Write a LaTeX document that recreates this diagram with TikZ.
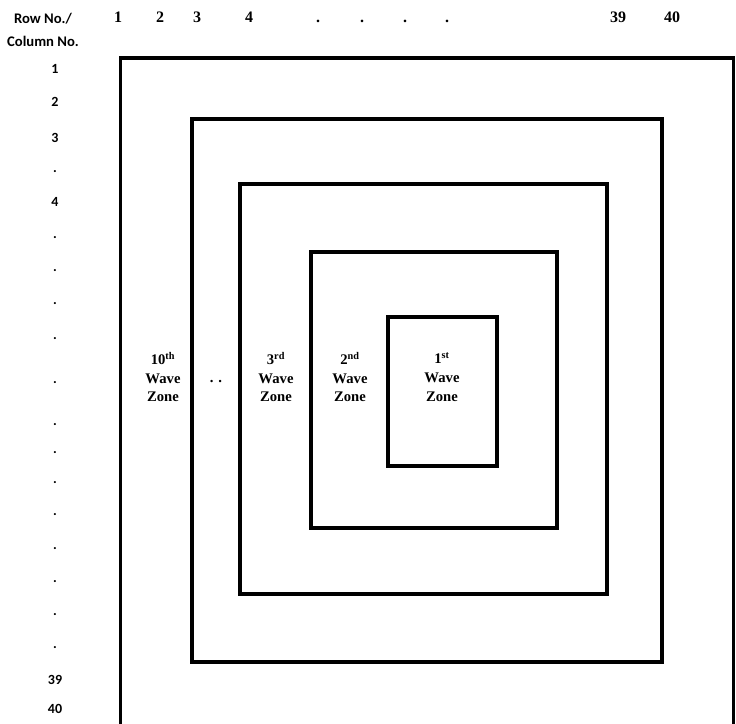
\documentclass[tikz,border=0pt]{standalone}
\usepackage{fontspec}
\setmainfont{Liberation Serif}
\newfontfamily\calibri{Carlito}
\usetikzlibrary{positioning}

\begin{document}
\begin{tikzpicture}[
      x=0.75pt, y=-0.75pt,
      wall/.style={line width=2.5pt},
      rowlbl/.style={font=\calibri\bfseries\fontsize{10.5}{12}\selectfont, inner sep=0pt},
      collbl/.style={font=\bfseries\fontsize{12}{14}\selectfont, inner sep=0pt, anchor=base},
      zonelbl/.style={font=\bfseries\fontsize{11}{14}\selectfont, align=center, inner sep=0pt}
    ]
    \useasboundingbox (0,0) rectangle (736,724);
    \clip (0,0) rectangle (736,724);

    % header
    \node[rowlbl, align=center, font=\calibri\bfseries\fontsize{11}{12}\selectfont]
      (head) at (43,30) {Row No./\\[5pt]Column No.};
    \foreach \x/\t [count=\n] in {118/1, 160/2, 197/3, 249/4, 318/., 362/., 405/., 447/.,
        618/39, 672/40}
      \node[collbl] (col-\n) at (\x,23) {\t};
    \foreach \y/\t [count=\n] in {69/1, 102/2, 138/3, 172/., 202/4, 238/., 271/., 304/.,
        339/., 383/., 425/., 453/., 483/., 515/., 549/., 582/., 615/., 648/., 680/39, 709/40}
      \node[rowlbl] (row-\n) at (55,\y) {\t};

    % zones, outside in
    \draw[wall] (120.5,740) -- (120.5,58) -- (733.5,58) -- (733.5,740);
    \draw[wall] (192,119) rectangle (662,662);
    \draw[wall] (240,184) rectangle (607,594);
    \draw[wall] (311,252) rectangle (557,528);
    \draw[wall] (388,317) rectangle (497,466);

    \node[zonelbl] (z10) at (163,377) {10\textsuperscript{th}\\Wave\\Zone};
    \node[zonelbl] (zdots) at (216,382) {. .};
    \node[zonelbl] (z3) at (276,377) {3\textsuperscript{rd}\\Wave\\Zone};
    \node[zonelbl] (z2) at (350,377) {2\textsuperscript{nd}\\Wave\\Zone};
    \node[zonelbl] (z1) at (442,377) {1\textsuperscript{st}\\Wave\\Zone};
  \end{tikzpicture}
\end{document}
